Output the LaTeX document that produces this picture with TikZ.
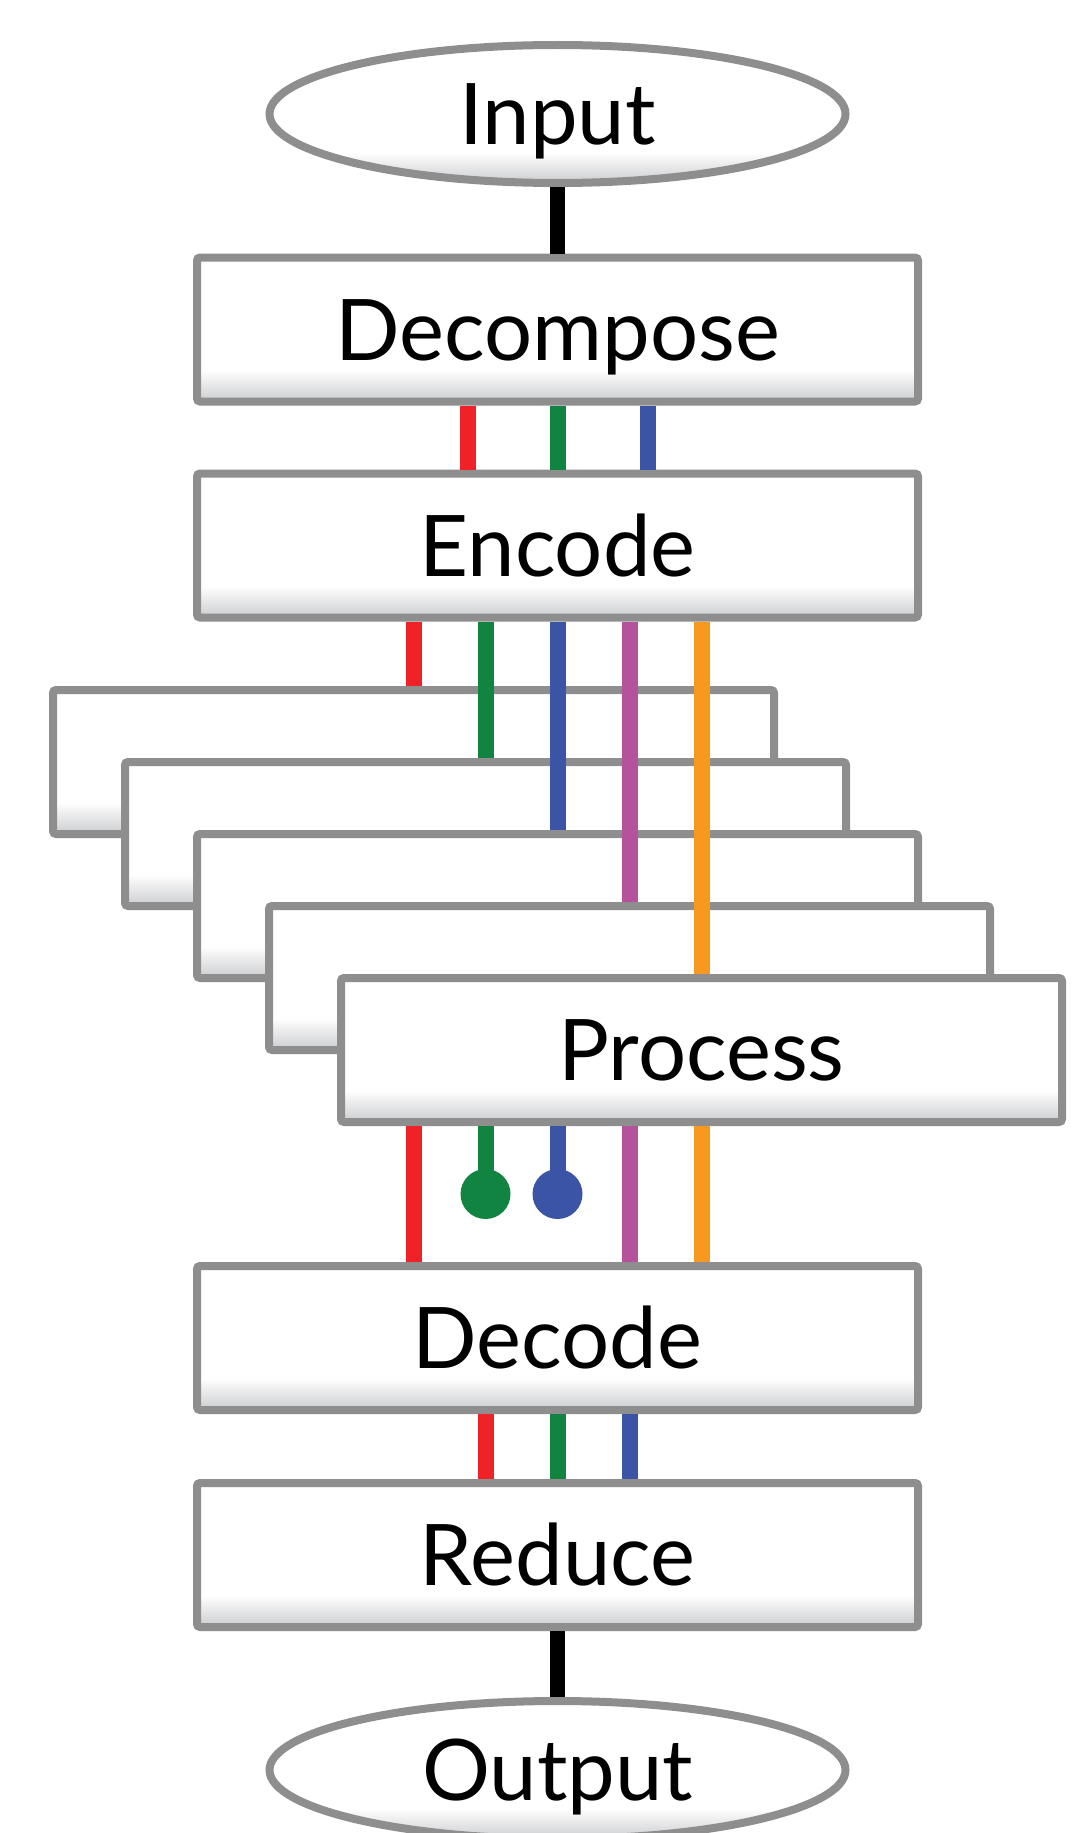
\documentclass[tikz,border=0pt]{standalone}
\usepackage{fontspec}
\setmainfont{Lato}
\usetikzlibrary{shapes.geometric}
\definecolor{bordergray}{HTML}{8E8E8E}
\definecolor{shadegray}{HTML}{D0D1D3}
\definecolor{cred}{HTML}{EE2227}
\definecolor{cgreen}{HTML}{118442}
\definecolor{cblue}{HTML}{3B54A5}
\definecolor{cmag}{HTML}{B5529E}
\definecolor{corange}{HTML}{F7991F}
\pgfdeclareverticalshading{boxshade}{100bp}{color(0bp)=(shadegray); color(26bp)=(shadegray); color(36bp)=(white); color(100bp)=(white)}
\begin{document}
\begin{tikzpicture}[x=1pt,y=-1pt,
  lbl/.style={font=\fontsize{85}{100}\selectfont, text height=61pt, text depth=0pt},
  box/.style={rectangle, draw=bordergray, line width=8pt, rounded corners=3pt,
    shading=boxshade, minimum width=721pt, minimum height=144pt, inner sep=0pt, lbl},
  term/.style={ellipse, draw=bordergray, line width=8pt, shading=boxshade,
    minimum width=576pt, minimum height=138pt, inner sep=0pt, lbl},
  wire/.style={line width=16pt},
  trunk/.style={line width=15pt, black},
  dot/.style={circle, inner sep=0pt, minimum size=50pt}]
\useasboundingbox[fill=white] (0,0) rectangle (1088,1833);

\node[term] (in) at (557.5,114) {Input};
\node[box] (dcmp) at (557.5,329.5) {Decompose};
\node[box] (enc) at (557.5,545.5) {Encode};
\draw[trunk] (in.south) -- (dcmp.north);

\draw[wire, cred]   ([xshift=-90pt]dcmp.south) -- ([xshift=-90pt]enc.north);
\draw[wire, cgreen] (dcmp.south) -- (enc.north);
\draw[wire, cblue]  ([xshift=90pt]dcmp.south) -- ([xshift=90pt]enc.north);

\node[box] (p1) at (413.5,762) {};
\draw[wire, cred] (enc.south -| p1.north) -- (p1.north);
\node[box] (p2) at (485.5,834) {};
\draw[wire, cgreen] (enc.south -| p2.north) -- (p2.north);
\node[box] (p3) at (557.5,906) {};
\draw[wire, cblue] (enc.south -| p3.north) -- (p3.north);
\node[box] (p4) at (629.5,978) {};
\draw[wire, cmag] (enc.south -| p4.north) -- (p4.north);
\node[box] (p5) at (701.5,1050) {Process};
\draw[wire, corange] (enc.south -| p5.north) -- (p5.north);

\node[box] (decd) at (557.5,1338) {Decode};
\node[box] (red) at (557.5,1555) {Reduce};
\node[term] (out) at (557.5,1770) {Output};

\node[dot, fill=cgreen] (gdot) at (485.5,1194) {};
\node[dot, fill=cblue] (bdot) at (557.5,1194) {};

\draw[wire, cred] (p5.south -| p1.center) -- (decd.north -| p1.center);
\draw[wire, cgreen] (p5.south -| gdot.center) -- (gdot.center);
\draw[wire, cblue] (p5.south -| bdot.center) -- (bdot.center);
\draw[wire, cmag] (p5.south -| p4.center) -- (decd.north -| p4.center);
\draw[wire, corange] (p5.south -| p5.center) -- (decd.north -| p5.center);

\draw[wire, cred]   ([xshift=-72pt]decd.south) -- ([xshift=-72pt]red.north);
\draw[wire, cgreen] (decd.south) -- (red.north);
\draw[wire, cblue]  ([xshift=72pt]decd.south) -- ([xshift=72pt]red.north);

\draw[trunk] (red.south) -- (out.north);
\end{tikzpicture}
\end{document}
